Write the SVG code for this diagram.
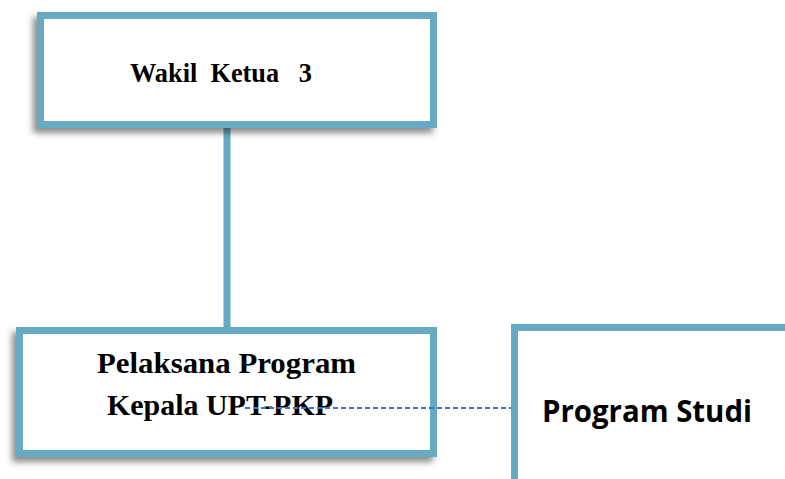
<svg xmlns="http://www.w3.org/2000/svg" width="785" height="479" viewBox="0 0 785 479">
<defs>
<style>
.box{fill:#fff;stroke:#67A9C3;stroke-width:7}
.conn{stroke:#67A9C3;stroke-width:7;fill:none}
.dash{stroke:#4472C4;stroke-width:1.8;stroke-dasharray:5 3;fill:none}
.serif{font-family:"Liberation Serif","Times New Roman",serif;font-weight:bold;fill:#000}
.sans{font-family:"Open Sans","Liberation Sans",sans-serif;font-weight:bold;fill:#000}
</style>
<filter id="sh" x="-10%" y="-10%" width="120%" height="130%">
<feDropShadow dx="-4" dy="5" stdDeviation="3" flood-color="#000" flood-opacity="0.45"/>
</filter>
</defs>
<g id="connectors">
<line class="conn" x1="227" y1="128" x2="227" y2="327"/>
</g>
<g id="node-wakil">
<rect class="box" x="40.5" y="15.5" width="393" height="109" filter="url(#sh)"/>
<text class="serif" x="130" y="82" font-size="27" textLength="182" lengthAdjust="spacingAndGlyphs" xml:space="preserve">Wakil  Ketua   3</text>
</g>
<g id="node-pelaksana">
<rect class="box" x="19.5" y="330.5" width="414" height="123" filter="url(#sh)"/>
<text class="serif" x="97" y="373" font-size="29" textLength="259" lengthAdjust="spacingAndGlyphs">Pelaksana Program</text>
<text class="serif" x="107" y="415" font-size="29" textLength="226" lengthAdjust="spacingAndGlyphs">Kepala UPT-PKP</text>
</g>
<g id="node-prodi">
<rect class="box" x="514.5" y="327.5" width="290" height="170"/>
<text class="sans" x="542" y="422" font-size="31" textLength="210" lengthAdjust="spacingAndGlyphs">Program Studi</text>
</g>
<g id="connectors-dashed">
<line class="dash" x1="245" y1="408" x2="511" y2="408"/>
</g>
</svg>
